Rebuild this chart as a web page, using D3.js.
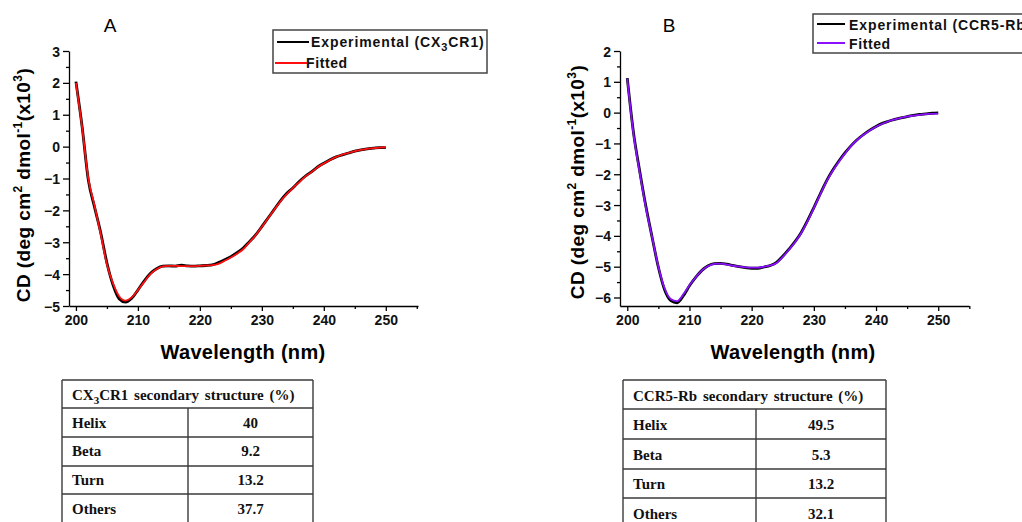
<!DOCTYPE html>
<html><head><meta charset="utf-8">
<script src="https://cdn.jsdelivr.net/npm/d3@7"></script>
<style>
body{margin:0;background:#fff;}
svg{display:block;}
</style></head>
<body><svg id="c" width="1022" height="522"></svg>
<script>
const wavelength = [200,201,202,203,204,205,206,207,208,209,210,211,212,213,214,215,216,217,218,219,220,221,222,223,224,225,226,227,228,229,230,231,232,233,234,235,236,237,238,239,240,241,242,243,244,245,246,247,248,249,250];
const expA = [2.04,0.62,-1.05,-1.9,-2.7,-3.65,-4.35,-4.78,-4.88,-4.76,-4.5,-4.22,-3.98,-3.83,-3.75,-3.74,-3.75,-3.72,-3.74,-3.75,-3.74,-3.73,-3.71,-3.64,-3.55,-3.45,-3.33,-3.18,-2.98,-2.77,-2.51,-2.24,-1.97,-1.7,-1.47,-1.3,-1.1,-0.93,-0.79,-0.64,-0.52,-0.41,-0.32,-0.26,-0.2,-0.14,-0.1,-0.07,-0.05,-0.03,-0.03];
const fitA = [2.0,0.6,-1.0,-1.85,-2.75,-3.7,-4.3,-4.7,-4.83,-4.73,-4.5,-4.25,-4.0,-3.85,-3.76,-3.74,-3.74,-3.75,-3.75,-3.75,-3.74,-3.73,-3.72,-3.68,-3.58,-3.48,-3.36,-3.22,-3.0,-2.78,-2.52,-2.25,-1.98,-1.72,-1.5,-1.3,-1.12,-0.94,-0.8,-0.65,-0.53,-0.42,-0.32,-0.25,-0.2,-0.14,-0.1,-0.07,-0.05,-0.03,-0.02];
const expB = [1.12,-0.65,-1.9,-3.05,-4.05,-5.02,-5.75,-6.1,-6.17,-5.95,-5.62,-5.35,-5.12,-4.97,-4.9,-4.89,-4.92,-4.96,-5.0,-5.03,-5.05,-5.05,-5.01,-4.96,-4.86,-4.66,-4.43,-4.18,-3.88,-3.5,-3.08,-2.65,-2.23,-1.88,-1.58,-1.31,-1.07,-0.87,-0.71,-0.57,-0.45,-0.35,-0.28,-0.22,-0.17,-0.13,-0.09,-0.06,-0.04,-0.02,-0.01];
const fitB = [1.1,-0.7,-1.95,-3.1,-4.05,-5.0,-5.7,-6.05,-6.12,-5.9,-5.6,-5.35,-5.12,-4.98,-4.91,-4.9,-4.93,-4.97,-5.0,-5.02,-5.03,-5.03,-5.0,-4.96,-4.88,-4.68,-4.45,-4.2,-3.9,-3.52,-3.1,-2.67,-2.25,-1.9,-1.6,-1.33,-1.08,-0.88,-0.72,-0.58,-0.46,-0.36,-0.28,-0.22,-0.17,-0.13,-0.1,-0.07,-0.05,-0.04,-0.03];
const xTicks = [200,210,220,230,240,250];
const xMinorTicks = [205,215,225,235,245,255];
const yTicksA = [-5,-4,-3,-2,-1,0,1,2,3];
const yMinorA = [-4.5,-3.5,-2.5,-1.5,-0.5,0.5,1.5,2.5];
const yTicksB = [-6,-5,-4,-3,-2,-1,0,1,2];
const yMinorB = [-5.5,-4.5,-3.5,-2.5,-1.5,-0.5,0.5,1.5];
const tableRowsLabels = ["Helix","Beta","Turn","Others"];
const tableValuesA = ["40","9.2","13.2","37.7"];
const tableValuesB = ["49.5","5.3","13.2","32.1"];

const svg = d3.select("#c");
const SANS = "'Liberation Sans', Arial, sans-serif";
const SERIF = "'Liberation Serif', 'Times New Roman', serif";

function panel(cfg){
  const g = svg.append("g");
  const x = d3.scaleLinear().domain(cfg.xDomain).range(cfg.xRange);
  const y = d3.scaleLinear().domain(cfg.yDomain).range([306,51]);
  const data = wavelength.map((w,i)=>({w, e:cfg.exp[i], f:cfg.fit[i]}));
  const lineE = d3.line().x(d=>x(d.w)).y(d=>y(d.e)).curve(d3.curveMonotoneX);
  const lineF = d3.line().x(d=>x(d.w)).y(d=>y(d.f)).curve(d3.curveMonotoneX);
  g.append("path").datum(data).attr("d",lineE).attr("fill","none").attr("stroke","#000").attr("stroke-width",2.8);
  g.append("path").datum(data).attr("d",lineF).attr("fill","none").attr("stroke",cfg.color).attr("stroke-width",1.8);
  const xa = g.append("g").attr("transform","translate(0,306)")
    .call(d3.axisBottom(x).tickValues(xTicks).tickSize(5).tickSizeOuter(0).tickPadding(4));
  g.append("g").attr("transform","translate(0,306)")
    .call(d3.axisBottom(x).tickValues(xMinorTicks).tickSize(3).tickFormat("")).select(".domain").remove();
  const ya = g.append("g").attr("transform",`translate(${cfg.xRange[0]},0)`)
    .call(d3.axisLeft(y).tickValues(cfg.yTicks).tickSize(6).tickSizeOuter(0).tickPadding(3).tickFormat(d3.format("d")));
  g.append("g").attr("transform",`translate(${cfg.xRange[0]},0)`)
    .call(d3.axisLeft(y).tickValues(cfg.yMinor).tickSize(3).tickFormat("")).select(".domain").remove();
  g.selectAll(".domain, .tick line").attr("stroke","#000").attr("stroke-width",1.3);
  [xa,ya].forEach(a=>a.selectAll("text").attr("font-family",SANS).attr("font-weight","bold").attr("font-size",14).attr("fill","#111"));
  ya.selectAll("text").attr("dy","0.36em");
  g.append("text").attr("x",cfg.xTitleX).attr("y",359).attr("text-anchor","middle")
    .attr("font-family",SANS).attr("font-weight","bold").attr("font-size",20).attr("letter-spacing",0.3).text("Wavelength (nm)");
  const yt = g.append("text").attr("transform",`translate(${cfg.yTitleX},${cfg.yTitleY}) rotate(-90)`)
    .attr("text-anchor","middle").attr("font-family",SANS).attr("font-weight","bold").attr("font-size",19).attr("letter-spacing",0.4);
  yt.append("tspan").text("CD (deg cm");
  yt.append("tspan").attr("dy",-8).attr("font-size",12).text("2");
  yt.append("tspan").attr("dy",8).text(" dmol");
  yt.append("tspan").attr("dy",-8).attr("font-size",12).text("-1");
  yt.append("tspan").attr("dy",8).text("(x10");
  yt.append("tspan").attr("dy",-8).attr("font-size",12).text("3");
  yt.append("tspan").attr("dy",8).text(")");
  g.append("text").attr("x",cfg.letterX).attr("y",32).attr("text-anchor","middle")
    .attr("font-family",SANS).attr("font-size",19).text(cfg.letter);
  const L = cfg.legend;
  g.append("rect").attr("x",L.x).attr("y",L.y).attr("width",L.w).attr("height",L.h)
    .attr("fill","#fff").attr("stroke","#444").attr("stroke-width",1.5);
  g.append("line").attr("x1",L.l1x1).attr("x2",L.l1x2).attr("y1",L.l1y).attr("y2",L.l1y).attr("stroke","#000").attr("stroke-width",2);
  g.append("line").attr("x1",L.l2x1).attr("x2",L.l2x2).attr("y1",L.l2y).attr("y2",L.l2y).attr("stroke",cfg.color).attr("stroke-width",2);
  const t1 = g.append("text").attr("x",L.t1x).attr("y",L.t1y).attr("font-family",SANS).attr("font-weight","bold").attr("font-size",14).attr("letter-spacing",0.9).attr("fill","#111");
  cfg.legendText(t1);
  g.append("text").attr("x",L.t2x).attr("y",L.t2y).attr("font-family",SANS).attr("font-weight","bold").attr("font-size",14).attr("letter-spacing",0.6).attr("fill","#111").text("Fitted");
  const T = cfg.table;
  const tg = g.append("g");
  const bottom = 530;
  tg.append("line").attr("x1",T.left).attr("x2",T.right).attr("y1",T.top).attr("y2",T.top);
  tg.append("line").attr("x1",T.left).attr("x2",T.left).attr("y1",T.top).attr("y2",bottom);
  tg.append("line").attr("x1",T.right).attr("x2",T.right).attr("y1",T.top).attr("y2",bottom);
  tg.append("line").attr("x1",T.divX).attr("x2",T.divX).attr("y1",T.headBottom).attr("y2",bottom);
  tg.selectAll("line.r").data([T.headBottom, ...T.rowLines]).join("line").attr("class","r")
    .attr("x1",T.left).attr("x2",T.right).attr("y1",d=>d).attr("y2",d=>d);
  tg.selectAll("line").attr("stroke","#3a3a3a").attr("stroke-width",1.4);
  const ht = tg.append("text").attr("x",T.textX).attr("y",T.headBase).attr("font-family",SERIF).attr("font-weight","bold").attr("font-size",15).attr("word-spacing",2).attr("fill","#111");
  cfg.tableHead(ht);
  tableRowsLabels.forEach((lab,i)=>{
    tg.append("text").attr("x",T.textX).attr("y",T.rowBase[i]).attr("font-family",SERIF).attr("font-weight","bold").attr("font-size",15).attr("fill","#111").text(lab);
    tg.append("text").attr("x",(T.divX+T.right)/2).attr("y",T.rowBase[i]).attr("text-anchor","middle").attr("font-family",SERIF).attr("font-weight","bold").attr("font-size",15).attr("fill","#111").text(cfg.values[i]);
  });
}

panel({
  xDomain:[198.88,255.2], xRange:[69,418], yDomain:[-5,3], yTicks:yTicksA, yMinor:yMinorA,
  exp:expA, fit:fitA, color:"#ff1010",
  xTitleX:243, yTitleX:30, yTitleY:185, letter:"A", letterX:110,
  legend:{x:273,y:30,w:214,h:43,l1x1:277,l1x2:309,l1y:42,l2x1:275,l2x2:307,l2y:63,t1x:311,t1y:47,t2x:306,t2y:68},
  legendText:t=>{t.append("tspan").text("Experimental (CX");t.append("tspan").attr("dy",4).attr("font-size",11).text("3");t.append("tspan").attr("dy",-4).text("CR1)");},
  table:{left:62,right:313,top:380,headBottom:408,rowLines:[437,466,494,523],divX:188,textX:72,headBase:400,rowBase:[428,456,485,514]},
  tableHead:t=>{t.append("tspan").text("CX");t.append("tspan").attr("dy",4).attr("font-size",11).text("3");t.append("tspan").attr("dy",-4).text("CR1 secondary structure (%)");},
  values:tableValuesA
});
panel({
  xDomain:[198.83,254.95], xRange:[620,969], yDomain:[-6.276,2], yTicks:yTicksB, yMinor:yMinorB,
  exp:expB, fit:fitB, color:"#8a10ff",
  xTitleX:793, yTitleX:584, yTitleY:182, letter:"B", letterX:669,
  legend:{x:813,y:14,w:260,h:39,l1x1:817,l1x2:845,l1y:24,l2x1:817,l2x2:845,l2y:43,t1x:849,t1y:30,t2x:849,t2y:49},
  legendText:t=>{t.text("Experimental (CCR5-Rb)");},
  table:{left:623,right:886,top:380,headBottom:409,rowLines:[439,469,498,528],divX:756,textX:633,headBase:401,rowBase:[430,460,489,519]},
  tableHead:t=>{t.text("CCR5-Rb secondary structure (%)");},
  values:tableValuesB
});
</script></body></html>
